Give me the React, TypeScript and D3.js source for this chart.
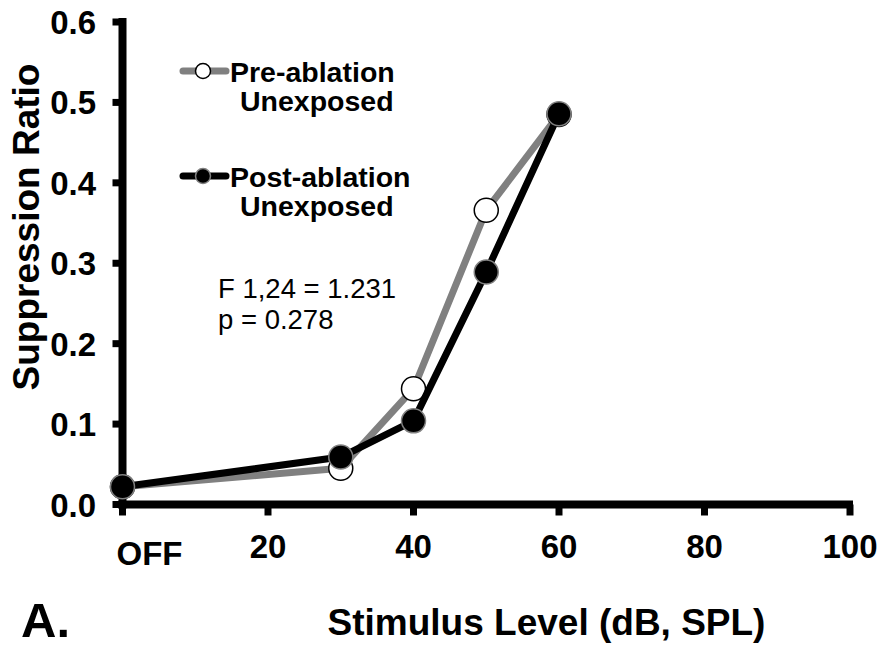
import React from "react";
import * as d3 from "d3";

const levels = [0, 30, 40, 50, 60];
const preAblation = [0.022, 0.045, 0.144, 0.366, 0.485];
const postAblation = [0.022, 0.059, 0.104, 0.289, 0.486];
const xTickValues = [0, 20, 40, 60, 80, 100];
const xTickLabels = ["OFF", "20", "40", "60", "80", "100"];
const yTickValues = [0, 0.1, 0.2, 0.3, 0.4, 0.5, 0.6];
const yTickLabels = ["0.0", "0.1", "0.2", "0.3", "0.4", "0.5", "0.6"];
const legendLabels = [["Pre-ablation", "Unexposed"], ["Post-ablation", "Unexposed"]];
const statLines = ["F 1,24 = 1.231", "p = 0.278"];
const xTitle = "Stimulus Level (dB, SPL)";
const yTitle = "Suppression Ratio";
const panelLabel = "A.";

const W = 882;
const H = 648;
const FONT = "'Liberation Sans', Arial, Helvetica, sans-serif";
const GRAY = "#808080";

export default function App() {
  const x = d3.scaleLinear().domain([0, 100]).range([122.5, 850]);
  const y = d3.scaleLinear().domain([0, 0.6]).range([504.5, 22]);

  const line = d3
    .line<number>()
    .x((_, i) => x(levels[i]))
    .y((d) => y(d));

  const axisW = 8;
  const tickLen = 7;
  const r = 12;

  return (
    <svg
      width={W}
      height={H}
      viewBox={`0 0 ${W} ${H}`}
      style={{ position: "absolute", left: 0, top: 0, background: "#fff" }}
      fontFamily={FONT}
    >
      <rect x={0} y={0} width={W} height={H} fill="#fff" />

      {/* Y axis */}
      <line
        x1={x(0)}
        x2={x(0)}
        y1={y(0.6) - 4}
        y2={y(0) + axisW / 2}
        stroke="#000"
        strokeWidth={axisW}
      />
      {yTickValues.map((v, i) => (
        <g key={"yt" + i}>
          <line
            x1={x(0) - axisW / 2 - tickLen + 1}
            x2={x(0)}
            y1={y(v)}
            y2={y(v)}
            stroke="#000"
            strokeWidth={7}
          />
          <text
            x={96}
            y={y(v) + 12}
            textAnchor="end"
            fontSize={33}
            fontWeight="bold"
            fill="#000"
          >
            {yTickLabels[i]}
          </text>
        </g>
      ))}

      {/* X axis */}
      <line
        x1={x(0) - axisW / 2}
        x2={x(100) + 3}
        y1={y(0)}
        y2={y(0)}
        stroke="#000"
        strokeWidth={axisW}
      />
      {xTickValues.map((v, i) => (
        <g key={"xt" + i}>
          <line
            x1={x(v)}
            x2={x(v)}
            y1={y(0)}
            y2={y(0) + axisW / 2 + tickLen}
            stroke="#000"
            strokeWidth={7}
          />
          {v === 0 ? (
            <text x={x(v) - 6} y={565} textAnchor="start" fontSize={33} fontWeight="bold">
              {xTickLabels[i]}
            </text>
          ) : (
            <text x={x(v)} y={558} textAnchor="middle" fontSize={33} fontWeight="bold">
              {xTickLabels[i]}
            </text>
          )}
        </g>
      ))}

      {/* Pre-ablation series */}
      <path
        d={line(preAblation) || ""}
        fill="none"
        stroke={GRAY}
        strokeWidth={7}
        strokeLinejoin="round"
      />
      {preAblation.map((v, i) => (
        <circle
          key={"pre" + i}
          cx={x(levels[i])}
          cy={y(v)}
          r={r}
          fill="#fff"
          stroke="#000"
          strokeWidth={1.5}
        />
      ))}

      {/* Post-ablation series */}
      <path
        d={line(postAblation) || ""}
        fill="none"
        stroke="#000"
        strokeWidth={7}
        strokeLinejoin="round"
      />
      {postAblation.map((v, i) => (
        <circle
          key={"post" + i}
          cx={x(levels[i])}
          cy={y(v)}
          r={r}
          fill="#000"
          stroke={GRAY}
          strokeWidth={1.5}
        />
      ))}

      {/* Legend */}
      {legendLabels.map((labels, i) => {
        const ly = 71 + i * 105;
        const pre = i === 0;
        return (
          <g key={"lg" + i}>
            <line
              x1={183}
              x2={226}
              y1={ly}
              y2={ly}
              stroke={pre ? GRAY : "#000"}
              strokeWidth={7}
              strokeLinecap="round"
            />
            <circle
              cx={203}
              cy={ly}
              r={7.5}
              fill={pre ? "#fff" : "#000"}
              stroke={pre ? "#000" : GRAY}
              strokeWidth={1.5}
            />
            <text x={230} y={ly + 11} fontSize={28.5} fontWeight="bold">
              {labels[0]}
            </text>
            <text x={240} y={ly + 40} fontSize={28.5} fontWeight="bold">
              {labels[1]}
            </text>
          </g>
        );
      })}

      {/* Stats */}
      {statLines.map((s, i) => (
        <text key={"st" + i} x={218} y={298 + i * 31} fontSize={27.5}>
          {s}
        </text>
      ))}

      {/* Axis titles */}
      <text
        transform={`translate(38.5, 227) rotate(-90)`}
        textAnchor="middle"
        fontSize={37}
        fontWeight="bold"
      >
        {yTitle}
      </text>
      <text x={546.5} y={635} textAnchor="middle" fontSize={37} fontWeight="bold">
        {xTitle}
      </text>
      <text x={21} y={637} fontSize={49} fontWeight="bold">
        {panelLabel}
      </text>
    </svg>
  );
}
